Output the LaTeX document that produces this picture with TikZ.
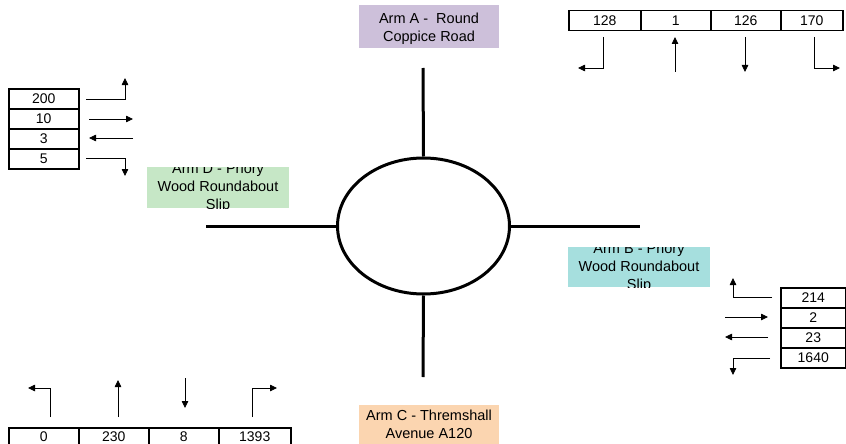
\documentclass[tikz,border=0pt]{standalone}
\usepackage{fontspec}
\setmainfont{Liberation Sans}
\usetikzlibrary{shapes.geometric,arrows.meta}
\definecolor{armA}{RGB}{205,192,218}
\definecolor{armB}{RGB}{166,223,222}
\definecolor{armC}{RGB}{251,213,176}
\definecolor{armD}{RGB}{198,231,198}
\tikzset{
  x=1pt, y=-1pt,
  road/.style={line width=3pt},
  cellbox/.style={draw, line width=1.5pt, inner sep=0pt, anchor=north west,
    font=\fontsize{14}{16}\selectfont},
  flow/.style={line width=0.8pt, -{Triangle[length=7pt,width=6.5pt]}},
  armtext/.style={align=center, inner sep=0pt, font=\fontsize{14.5}{18.2}\selectfont},
}
\newcommand{\cellat}[6]{% name, x, y, width, height, text
  \node[cellbox, minimum width=#4pt, minimum height=#5pt] (#1) at (#2,#3) {#6};}
\begin{document}
\begin{tikzpicture}
\useasboundingbox (0,0) rectangle (846,444);
\clip (0,0) rectangle (846,444);

% roundabout and its four arms
\node[ellipse, draw, line width=3pt, minimum width=172pt, minimum height=136pt,
  inner sep=0pt] (rb) at (423.5,226) {};
\coordinate (nA) at (423,68);
\coordinate (nC) at (423,377);
\coordinate (nD) at (206,226);
\coordinate (nB) at (640,226);
\draw[road] (nA) -- (rb.north);
\draw[road] (rb.south) -- (nC);
\draw[road] (nD) -- (rb.west);
\draw[road] (rb.east) -- (nB);

% arm labels (text clipped to its box)
\fill[armA] (359,5) rectangle (499,48);
\node[armtext] (labA) at (429,28.5) {Arm A -\ \ Round\\Coppice Road};
\fill[armC] (359,405) rectangle (499,450);
\node[armtext] (labC) at (429,424) {Arm C - Thremshall\\Avenue A120};
\begin{scope}
  \clip (147,167) rectangle (289,208);
  \fill[armD] (147,167) rectangle (289,208);
  \node[armtext] (labD) at (218,187.5) {Arm D - Priory\\Wood Roundabout\\Slip};
\end{scope}
\begin{scope}
  \clip (568,247) rectangle (710,287);
  \fill[armB] (568,247) rectangle (710,287);
  \node[armtext] (labB) at (639,267.5) {Arm B - Priory\\Wood Roundabout\\Slip};
\end{scope}

% Arm A counts
\cellat{a1}{568}{10}{72}{20}{128}
\cellat{a2}{640}{10}{70}{20}{1}
\cellat{a3}{710}{10}{70}{20}{126}
\cellat{a4}{780}{10}{62}{20}{170}
\coordinate (a1s) at (603,37);  \coordinate (a1c) at (603,68);  \coordinate (a1e) at (578,68);
\coordinate (a2s) at (675,72);  \coordinate (a2e) at (675,37);
\coordinate (a3s) at (745,37);  \coordinate (a3e) at (745,72);
\coordinate (a4s) at (814,37);  \coordinate (a4c) at (814,68);  \coordinate (a4e) at (840,68);
\draw[flow] (a1s) -- (a1c) -- (a1e);
\draw[flow] (a2s) -- (a2e);
\draw[flow] (a3s) -- (a3e);
\draw[flow] (a4s) -- (a4c) -- (a4e);

% Arm D counts
\cellat{d1}{8}{88}{70}{20}{200}
\cellat{d2}{8}{108}{70}{20}{10}
\cellat{d3}{8}{128}{70}{20}{3}
\cellat{d4}{8}{148}{70}{20}{5}
\coordinate (d1s) at (86,99);   \coordinate (d1c) at (125,99);  \coordinate (d1e) at (125,78);
\coordinate (d2s) at (89,119);  \coordinate (d2e) at (133,119);
\coordinate (d3s) at (133,138); \coordinate (d3e) at (89,138);
\coordinate (d4s) at (86,158);  \coordinate (d4c) at (125,158); \coordinate (d4e) at (125,176);
\draw[flow] (d1s) -- (d1c) -- (d1e);
\draw[flow] (d2s) -- (d2e);
\draw[flow] (d3s) -- (d3e);
\draw[flow] (d4s) -- (d4c) -- (d4e);

% Arm B counts
\cellat{b1}{780}{287}{65}{20}{214}
\cellat{b2}{780}{307}{65}{20}{2}
\cellat{b3}{780}{327}{65}{20}{23}
\cellat{b4}{780}{347}{65}{20}{1640}
\coordinate (b1s) at (772,297); \coordinate (b1c) at (733,297); \coordinate (b1e) at (733,278);
\coordinate (b2s) at (725,317); \coordinate (b2e) at (768,317);
\coordinate (b3s) at (768,337); \coordinate (b3e) at (725,337);
\coordinate (b4s) at (770,358); \coordinate (b4c) at (733,358); \coordinate (b4e) at (733,375);
\draw[flow] (b1s) -- (b1c) -- (b1e);
\draw[flow] (b2s) -- (b2e);
\draw[flow] (b3s) -- (b3e);
\draw[flow] (b4s) -- (b4c) -- (b4e);

% Arm C counts
\cellat{c1}{8}{427}{70}{18}{0}
\cellat{c2}{78}{427}{70}{18}{230}
\cellat{c3}{148}{427}{70}{18}{8}
\cellat{c4}{218}{427}{72}{18}{1393}
\coordinate (c1s) at (50,417);  \coordinate (c1c) at (50,388);  \coordinate (c1e) at (28,388);
\coordinate (c2s) at (118,417); \coordinate (c2e) at (118,380);
\coordinate (c3s) at (185,378); \coordinate (c3e) at (185,408);
\coordinate (c4s) at (252,417); \coordinate (c4c) at (252,388); \coordinate (c4e) at (277,388);
\draw[flow] (c1s) -- (c1c) -- (c1e);
\draw[flow] (c2s) -- (c2e);
\draw[flow] (c3s) -- (c3e);
\draw[flow] (c4s) -- (c4c) -- (c4e);
\end{tikzpicture}
\end{document}
